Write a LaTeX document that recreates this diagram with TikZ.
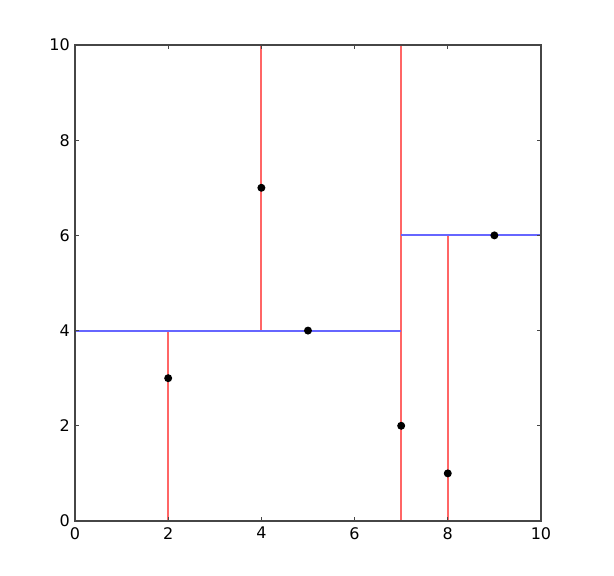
\documentclass[tikz,border=0pt]{standalone}
\usepackage{fontspec}
\setmainfont{DejaVu Sans}
\definecolor{splitx}{RGB}{255,102,102}
\definecolor{splity}{RGB}{102,102,255}
\definecolor{frame}{RGB}{70,70,70}

\begin{document}
\begin{tikzpicture}[x=46.6pt, y=47.6pt, font=\fontsize{16}{16}\selectfont,
  cut/.style={line width=2pt},
  pt/.style={fill=black, shape=circle, inner sep=0, minimum size=8pt}]

% margins of the picture
\useasboundingbox (-1.609,-1.155) rectangle (11.567,10.945);

% splitting planes
\draw[cut, splitx] (2,0) -- (2,4) ;
\draw[cut, splitx] (4,4) -- (4,10) ;
\draw[cut, splitx] (7,0) -- (7,10) ;
\draw[cut, splitx] (8,0) -- (8,6) ;
\draw[cut, splity] (0,4) -- (7,4) ;
\draw[cut, splity] (7,6) -- (10,6) ;

% axes
\draw[frame, line width=1.6pt] (0,0) rectangle (10,10) ;
\foreach \t in {0,2,...,10} {
  \draw[frame, line width=1pt] (\t,0) -- ++(0,4pt) ;
  \draw[frame, line width=1pt] (\t,10) -- ++(0,-4pt) ;
  \draw[frame, line width=1pt] (0,\t) -- ++(4pt,0) ;
  \draw[frame, line width=1pt] (10,\t) -- ++(-4pt,0) ;
  \node[anchor=north, inner sep=0, yshift=-6pt] at (\t,0) {\t};
  \node[anchor=east, inner sep=0, xshift=-5pt] at (0,\t) {\t};
}

% points
\node[pt] (p1) at (2,3) {};
\node[pt] (p2) at (4,7) {};
\node[pt] (p3) at (5,4) {};
\node[pt] (p4) at (7,2) {};
\node[pt] (p5) at (8,1) {};
\node[pt] (p6) at (9,6) {};

\end{tikzpicture}
\end{document}
